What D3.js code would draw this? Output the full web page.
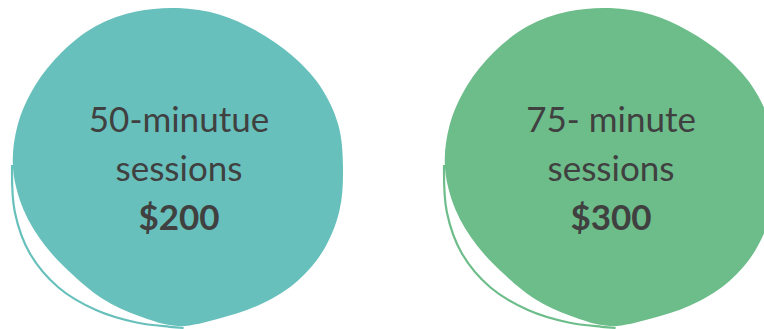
<!DOCTYPE html>
<html><head><meta charset="utf-8">
<script src="https://cdn.jsdelivr.net/npm/d3@7"></script>
<style>html,body{margin:0;padding:0;background:#fff;}svg{display:block;}</style>
</head><body>
<svg id="c" width="764" height="329"></svg>
<script>
// Data
const categories = ["50-minute", "75-minute"];
const line1 = ["50-minutue", "75- minute"];
const line2 = ["sessions", "sessions"];
const prices = ["$200", "$300"];
const fills = ["#67C0BC", "#6CBD8A"];

// Decorative blob shape: radius every 15 degrees (0 = right, clockwise on screen)
const blobRadii = [165,167,167,164,159,156,158,153,151,150,154,160,165,166,165,164,164,162,160,159,158,160,164,166];
// Thin rim line under the blob: [angle in degrees, radius]
const rimPolar = [[181,166],[165,169],[150,171],[135,169],[120,164],[105,160],[93,159],[88,160]];

const svg = d3.select("#c");
const x = d3.scalePoint().domain(categories).range([178, 610]);
const cy = 168;
const toRad = a => (a + 90) * Math.PI / 180;

const blob = d3.lineRadial()
  .angle((r,i) => toRad(i * 15)).radius(r => r)
  .curve(d3.curveCatmullRomClosed.alpha(0.5));
const rim = d3.lineRadial()
  .angle(p => toRad(p[0])).radius(p => p[1])
  .curve(d3.curveCatmullRom.alpha(0.5));

const g = svg.selectAll("g.item").data(categories).join("g")
  .attr("class","item")
  .attr("transform", d => `translate(${x(d)},${cy})`);

g.append("path").attr("d", rim(rimPolar))
  .attr("fill","none").attr("stroke",(d,i)=>fills[i]).attr("stroke-width",2.2);
g.append("path").attr("d", blob(blobRadii))
  .attr("fill", (d,i) => fills[i]);

const t = g.append("text").attr("text-anchor","middle")
  .attr("font-family","Lato, 'Open Sans', sans-serif").attr("fill","#404040");
t.append("tspan").attr("x",1).attr("y",-36).attr("font-size",35).text((d,i)=>line1[i]);
t.append("tspan").attr("x",1).attr("y",13).attr("font-size",35).text((d,i)=>line2[i]);
t.append("tspan").attr("x",1).attr("y",62).attr("font-size",35).attr("font-weight","bold").text((d,i)=>prices[i]);
</script>
</body></html>
